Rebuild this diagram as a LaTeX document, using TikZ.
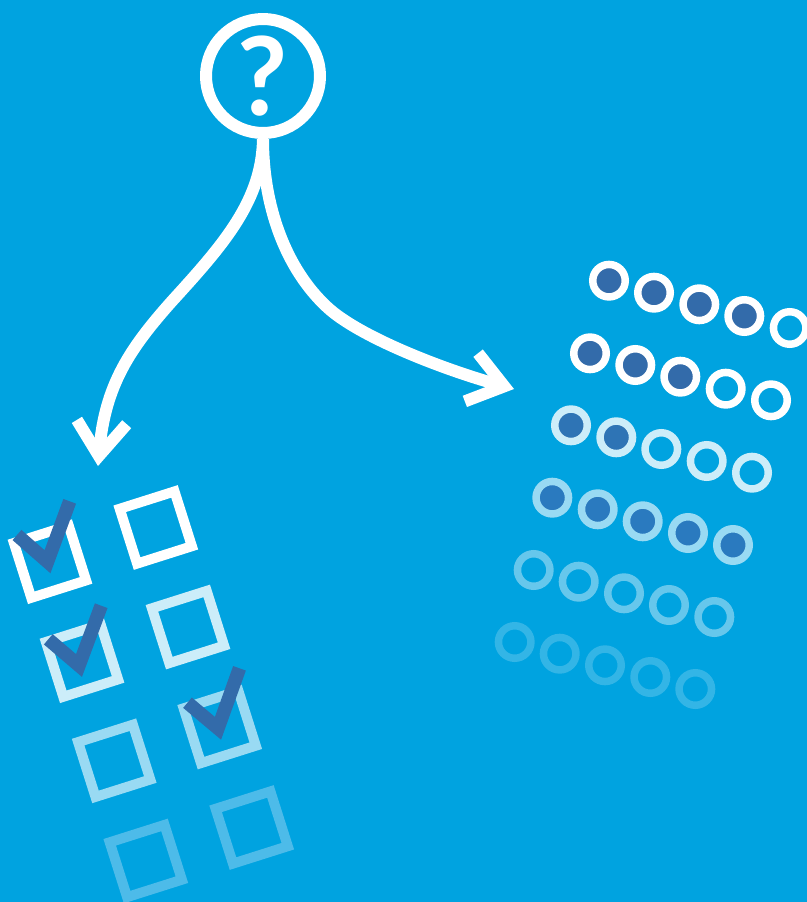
\documentclass[tikz,border=0pt]{standalone}
\usepackage{fontspec}
\newfontfamily\askfont{Lato}
\usetikzlibrary{arrows.meta}
\definecolor{skybg}{HTML}{00A3E0}
\definecolor{tickblue}{HTML}{336BAA}
\definecolor{tickmid}{HTML}{2E74B5}
\definecolor{ticklow}{HTML}{2A7ABF}
\definecolor{fadeA}{HTML}{CCEDF9}
\definecolor{fadeB}{HTML}{99DAF3}
\definecolor{fadeC}{HTML}{66C7EC}
\definecolor{fadeD}{HTML}{33B5E6}
\definecolor{fadeE}{HTML}{4DBBE9}

\begin{document}
\begin{tikzpicture}[
    x=0.02cm, y=-0.02cm,
    ask/.style={circle, draw=white, line width=0.24cm, minimum size=2.28cm, inner sep=0pt, text=white, font=\askfont\bfseries\fontsize{62}{62}\selectfont},
    branch/.style={draw=white, line width=0.24cm, -{Straight Barb[length=0.68cm, width=1cm]}},
    tickbox/.style={rectangle, draw=#1, line width=0.2cm, minimum size=1.15cm, inner sep=0pt, rotate=17.6},
    tick/.style={draw=tickblue, line width=0.27cm, miter limit=10},
    ring/.style={circle, draw=#1, line width=0.15cm, minimum size=0.65cm, inner sep=0pt}
]
\useasboundingbox[fill=skybg] (0,0) rectangle (807,902);

\node[ask] (question) at (263,76) {?};
\coordinate (tipleft) at (98,466);
\coordinate (tipright) at (514,389);
\draw[branch] (question.south) .. controls (262,200) and (225,243) .. (173,300) .. controls (130,348) and (105,385) .. (tipleft);
\draw[branch] (question.south) .. controls (263,205) and (285,268) .. (327,307) .. controls (359,337) and (445,370) .. (tipright);

% boxes, left column then right column
\node[tickbox=white] (box1) at (50,561.7) {};
\node[tickbox=fadeA] (box2) at (82,660.7) {};
\node[tickbox=fadeB] (box3) at (114.2,760.8) {};
\node[tickbox=fadeE] (box4) at (145.8,861) {};
\node[tickbox=white] (box5) at (155.8,527.5) {};
\node[tickbox=fadeA] (box6) at (188,627) {};
\node[tickbox=fadeB] (box7) at (219.7,727) {};
\node[tickbox=fadeE] (box8) at (251.7,827.5) {};

% ticks
\draw[tick] (17,535) -- (47.5,561.7) -- (69.7,501.3);
\draw[tick] (48.3,639.3) -- (79,665.5) -- (101.2,605.7);
\draw[tick] (187.5,702.7) -- (218,728.3) -- (239.5,668.3);

% row 1
\node[ring=white, fill=tickblue] (a1) at (609,280.7) {};
\node[ring=white, fill=tickblue] (a2) at (654,292.7) {};
\node[ring=white, fill=tickblue] (a3) at (699.3,304.3) {};
\node[ring=white, fill=tickblue] (a4) at (744.3,316) {};
\node[ring=white] (a5) at (789.7,328) {};
% row 2
\node[ring=white, fill=tickblue] (b1) at (590,353.3) {};
\node[ring=white, fill=tickblue] (b2) at (635.3,365) {};
\node[ring=white, fill=tickblue] (b3) at (680.3,376.7) {};
\node[ring=white] (b4) at (725.7,388.7) {};
\node[ring=white] (b5) at (771,400.3) {};
% row 3
\node[ring=fadeA, fill=tickmid] (c1) at (571,425.3) {};
\node[ring=fadeA, fill=tickmid] (c2) at (616.3,437.3) {};
\node[ring=fadeA] (c3) at (661.3,449) {};
\node[ring=fadeA] (c4) at (706.7,461) {};
\node[ring=fadeA] (c5) at (752,472.7) {};
% row 4
\node[ring=fadeB, fill=ticklow] (d1) at (552.3,497.7) {};
\node[ring=fadeB, fill=ticklow] (d2) at (597.7,509.3) {};
\node[ring=fadeB, fill=ticklow] (d3) at (642.7,521.3) {};
\node[ring=fadeB, fill=ticklow] (d4) at (688,533) {};
\node[ring=fadeB, fill=ticklow] (d5) at (733,545) {};
% row 5
\node[ring=fadeC] (e1) at (533.7,570) {};
\node[ring=fadeC] (e2) at (578.7,581.7) {};
\node[ring=fadeC] (e3) at (624,593.3) {};
\node[ring=fadeC] (e4) at (669,605) {};
\node[ring=fadeC] (e5) at (714.3,617) {};
% row 6
\node[ring=fadeD] (f1) at (514.7,642) {};
\node[ring=fadeD] (f2) at (559.7,653.7) {};
\node[ring=fadeD] (f3) at (605,665.3) {};
\node[ring=fadeD] (f4) at (650.3,677) {};
\node[ring=fadeD] (f5) at (695.3,689) {};
\end{tikzpicture}
\end{document}
